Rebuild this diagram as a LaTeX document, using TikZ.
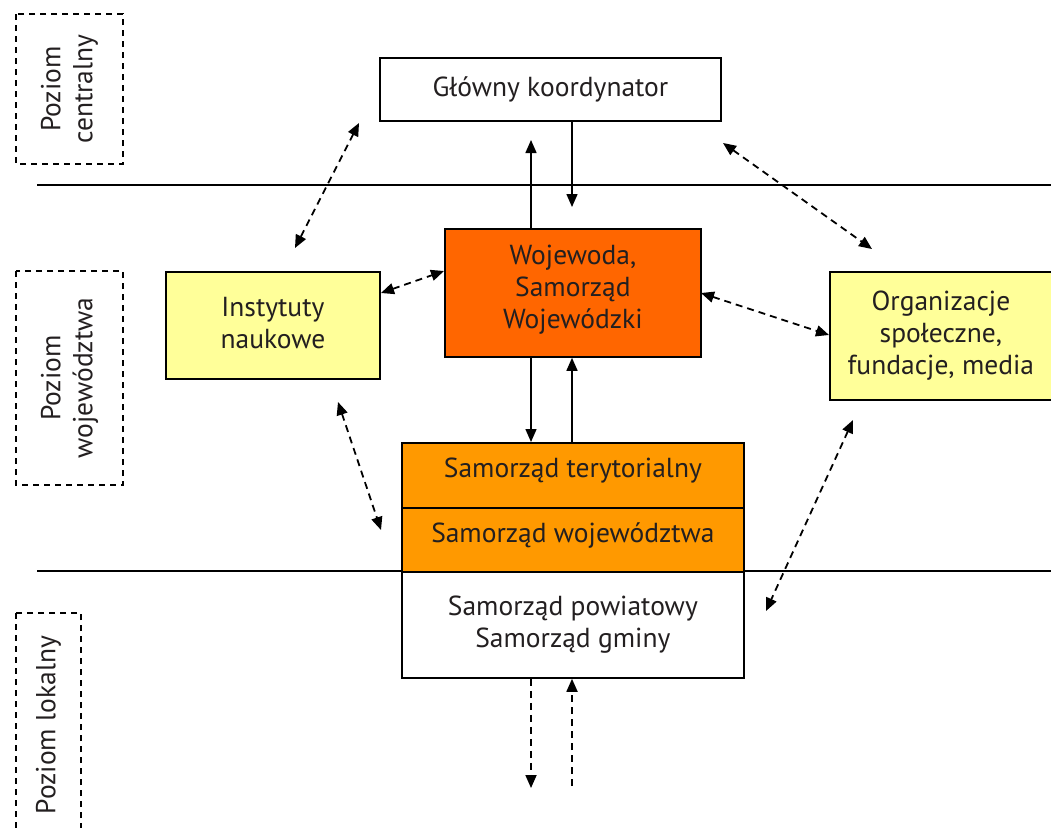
\documentclass[tikz,border=0pt]{standalone}
\usepackage{fontspec}
\setmainfont{PT Sans}
\usetikzlibrary{arrows.meta}
\definecolor{txt}{HTML}{231F20}
\definecolor{yel}{HTML}{FFFF99}
\definecolor{ora}{HTML}{FF6600}
\definecolor{amb}{HTML}{FF9900}
\begin{document}
\begin{tikzpicture}[x=1pt,y=-1pt,
  tfont/.style={align=center,text=txt,font=\fontsize{27.5}{32}\selectfont},
  box/.style={draw=black,line width=1.8pt,anchor=north west,inner sep=0pt,tfont},
  lbl/.style={tfont,inner sep=0pt},
  lvl/.style={draw=black,line width=1.5pt,dash pattern=on 6pt off 5pt,inner sep=0pt,tfont,rotate=90},
  sol/.style={line width=1.5pt,-{Triangle[length=13pt,width=11pt]}},
  dsh/.style={line width=1.8pt,dash pattern=on 7pt off 5pt,{Triangle[length=13pt,width=11pt]}-{Triangle[length=13pt,width=11pt]}},
  dsho/.style={line width=1.8pt,dash pattern=on 7pt off 5pt,-{Triangle[length=13pt,width=11pt]}},
  sep/.style={line width=1.8pt}
]
\clip (0,0) rectangle (1051,827);
% level labels
\node[lvl,minimum width=150pt,minimum height=107pt] (lc) at (69.5,89) {Poziom\\centralny};
\node[lvl,minimum width=214pt,minimum height=107pt] (lw) at (69.5,378) {Poziom\\województwa};
\node[lvl,minimum width=224pt,minimum height=65pt] (ll) at (48.5,725) {Poziom lokalny};
% separators
\coordinate (s1a) at (37,185); \coordinate (s1b) at (1053,185);
\coordinate (s2a) at (37,571); \coordinate (s2b) at (1053,571);
\draw[sep] (s1a) -- (s1b);
\draw[sep] (s2a) -- (s2b);
% boxes
\node[box,fill=white,minimum width=341pt,minimum height=63pt] (gk) at (379,57) {Główny koordynator};
\node[box,fill=ora,minimum width=256pt,minimum height=128pt,label={[lbl,yshift=3pt]center:Wojewoda,\\Samorząd\\Wojewódzki}] (wo) at (444,228) {};
\node[box,fill=yel,minimum width=214pt,minimum height=107pt,label={[lbl,yshift=2pt]center:Instytuty\\naukowe}] (in) at (165,271) {};
\node[box,fill=yel,minimum width=222pt,minimum height=128pt] (og) at (829,271) {Organizacje\\społeczne,\\fundacje, media};
\node[box,fill=amb,minimum width=342pt,minimum height=65pt,label={[lbl,yshift=5pt]center:Samorząd terytorialny}] (st) at (401,442) {};
\node[box,fill=amb,minimum width=342pt,minimum height=64pt,label={[lbl,yshift=4pt]center:Samorząd województwa}] (sw) at (401,507) {};
\node[box,fill=white,minimum width=342pt,minimum height=106pt] (sp) at (401,571) {Samorząd powiatowy\\Samorząd gminy};
% vertical solid arrows
\coordinate (xl) at (531,0);
\coordinate (xr) at (572,0);
\coordinate (a1) at (531,140);
\coordinate (a2) at (572,207);
\draw[sol] (wo.north -| xl) -- (a1);
\draw[sol] (gk.south -| xr) -- (a2);
\draw[sol] (wo.south -| xl) -- (st.north -| xl);
\draw[sol] (st.north -| xr) -- (wo.south -| xr);
% bottom dashed arrows
\coordinate (b1) at (531,788);
\coordinate (b2) at (572,786);
\draw[dsho] (sp.south -| xl) -- (b1);
\draw[dsho] (b2) -- (sp.south -| xr);
% diagonal dashed arrows
\coordinate (d1a) at (359,123); \coordinate (d1b) at (295,248);
\draw[dsh] (d1a) -- (d1b);
\coordinate (d2a) at (381,293); \coordinate (d2b) at (444,271);
\draw[dsh] (d2a) -- (d2b);
\coordinate (d3a) at (723,143); \coordinate (d3b) at (872,249);
\draw[dsh] (d3a) -- (d3b);
\coordinate (d4a) at (701,293); \coordinate (d4b) at (829,335);
\draw[dsh] (d4a) -- (d4b);
\coordinate (d5a) at (338,402); \coordinate (d5b) at (381,530);
\draw[dsh] (d5a) -- (d5b);
\coordinate (d6a) at (853,420); \coordinate (d6b) at (766,611);
\draw[dsh] (d6a) -- (d6b);
\end{tikzpicture}
\end{document}
